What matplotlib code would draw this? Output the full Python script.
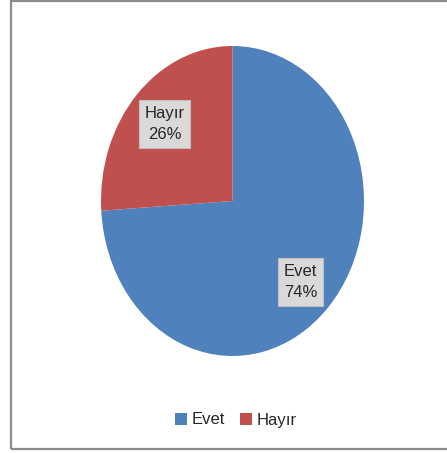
import matplotlib
matplotlib.use("Agg")
import matplotlib.pyplot as plt
from matplotlib.patches import Rectangle

categories = ["Evet", "Hayır"]
values = [74, 26]
colors = ["#4F81BD", "#C0504D"]

W, H = 447, 453
fig = plt.figure(figsize=(W / 100, H / 100), dpi=100)
fig.patch.set_facecolor("white")

# outer chart border
fig.patches.append(Rectangle((10.5 / W, (H - 449) / H), 450 / W, (449 - 1.0) / H,
                             transform=fig.transFigure, fill=False,
                             edgecolor="#8C8C8C", linewidth=1.6))

ax = fig.add_axes([101 / W, (H - 356) / H, 263 / W, 310 / H])
wedges, _ = ax.pie(values, colors=colors, startangle=90, counterclock=False,
                   radius=1.0, wedgeprops=dict(linewidth=0))
ax.set_aspect("auto")
ax.set_xlim(-1, 1)
ax.set_ylim(-1, 1)
ax.axis("off")

font = "Liberation Sans"
label_pos = {"Evet": (300.5, 282), "Hayır": (164.5, 124)}
for cat, val in zip(categories, values):
    px, py = label_pos[cat]
    fig.text(px / W, 1 - py / H, f"{cat}\n{val}%", ha="center", va="center",
             fontsize=12, family=font, color="#262626", linespacing=1.55,
             bbox=dict(boxstyle="square,pad=0.35", facecolor="#D9D9D9",
                       edgecolor="#BFBFBF", linewidth=0.8))

leg = fig.legend(wedges, categories, loc="center", bbox_to_anchor=(236 / W, 1 - 420 / H),
                 ncol=2, frameon=False, prop={"family": font, "size": 12},
                 handlelength=0.7, handleheight=0.7, handletextpad=0.3,
                 columnspacing=0.9, labelcolor="#262626")

fig.savefig("out.png", dpi=100, facecolor="white")
